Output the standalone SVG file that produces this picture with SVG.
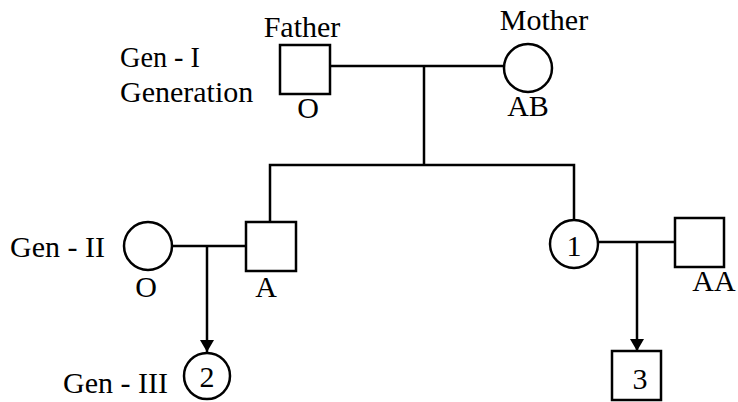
<svg xmlns="http://www.w3.org/2000/svg" width="738" height="402" viewBox="0 0 738 402">
<defs>
<style>
.s{fill:#fff;stroke:#000;stroke-width:2.5}
.l{fill:none;stroke:#000;stroke-width:2.5}
.t{font-family:"Liberation Serif","Times New Roman",serif;font-size:30px;fill:#000}
.m{text-anchor:middle}
</style>
<marker id="ah" viewBox="0 0 12 14" refX="12" refY="7" markerWidth="12" markerHeight="14" markerUnits="userSpaceOnUse" orient="auto">
<path d="M0,0 L12,7 L0,14 Z" fill="#000"/>
</marker>
</defs>
<g id="labels">
<text class="t" x="120" y="67" textLength="80" lengthAdjust="spacingAndGlyphs">Gen - I</text>
<text class="t" x="120" y="102">Generation</text>
<text class="t" x="10" y="257">Gen - II</text>
<text class="t" x="63" y="393">Gen - III</text>
</g>
<g id="connectors">
<line class="l" x1="330" y1="66" x2="504" y2="66"/>
<line class="l" x1="424" y1="66" x2="424" y2="165"/>
<polyline class="l" points="270,222 270,165 574,165 574,220"/>
<line class="l" x1="172" y1="246" x2="246" y2="246"/>
<line class="l" x1="207" y1="246" x2="207" y2="352" marker-end="url(#ah)"/>
<line class="l" x1="598" y1="242" x2="675" y2="242"/>
<line class="l" x1="637" y1="242" x2="637" y2="351" marker-end="url(#ah)"/>
</g>
<g id="father">
<rect class="s" x="280" y="45" width="50" height="49"/>
<text class="t m" x="302" y="37">Father</text>
<text class="t m" x="308" y="118">O</text>
</g>
<g id="mother">
<circle class="s" cx="528" cy="68" r="24"/>
<text class="t m" x="544" y="30">Mother</text>
<text class="t m" x="528" y="116">AB</text>
</g>
<g id="gen2-wife">
<circle class="s" cx="148" cy="246" r="24"/>
<text class="t m" x="146" y="297">O</text>
</g>
<g id="gen2-son">
<rect class="s" x="246" y="222" width="50" height="49"/>
<text class="t m" x="266" y="297">A</text>
</g>
<g id="daughter-1">
<circle class="s" cx="574" cy="244" r="24"/>
<text class="t m" x="574" y="256">1</text>
</g>
<g id="husband-AA">
<rect class="s" x="675" y="218" width="49" height="49"/>
<text class="t m" x="714" y="291">AA</text>
</g>
<g id="child-2">
<circle class="s" cx="207" cy="376" r="23"/>
<text class="t m" x="207" y="387">2</text>
</g>
<g id="child-3">
<rect class="s" x="612" y="351" width="49" height="49"/>
<text class="t m" x="640" y="389">3</text>
</g>
</svg>
